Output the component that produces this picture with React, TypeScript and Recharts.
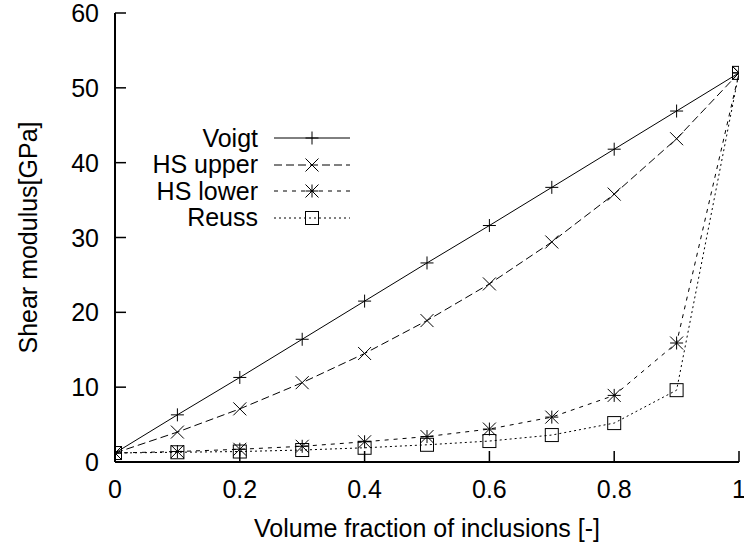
import { LineChart, Line, XAxis, YAxis, Legend, Label } from "recharts"

const fractions = [0, 0.1, 0.2, 0.3, 0.4, 0.5, 0.6, 0.7, 0.8, 0.9, 1]
const voigt = [1.2, 6.3, 11.3, 16.4, 21.5, 26.6, 31.6, 36.7, 41.8, 46.9, 52]
const hsUpper = [1.2, 4.0, 7.1, 10.6, 14.5, 18.9, 23.8, 29.4, 35.8, 43.2, 52]
const hsLower = [1.2, 1.4, 1.7, 2.1, 2.7, 3.4, 4.4, 6.0, 8.9, 15.9, 52]
const reuss = [1.2, 1.3, 1.4, 1.6, 1.9, 2.3, 2.8, 3.6, 5.2, 9.6, 52]
const xTicks = [0, 0.2, 0.4, 0.6, 0.8, 1]
const yTicks = [0, 10, 20, 30, 40, 50, 60]

const data = fractions.map((f, i) => ({
  f,
  voigt: voigt[i],
  hsUpper: hsUpper[i],
  hsLower: hsLower[i],
  reuss: reuss[i],
}))

const FONT = "'Liberation Sans', Arial, Helvetica, sans-serif"
const FS = 25
const TICK = 11

type Shape = "plus" | "cross" | "star" | "square"

const SERIES: { key: string; name: string; dash?: string; shape: Shape }[] = [
  { key: "voigt", name: "Voigt", shape: "plus" },
  { key: "hsUpper", name: "HS upper", dash: "8 4", shape: "cross" },
  { key: "hsLower", name: "HS lower", dash: "4 5", shape: "star" },
  { key: "reuss", name: "Reuss", dash: "2 3", shape: "square" },
]

function Marker({ shape, cx, cy }: { shape: Shape; cx: number; cy: number }) {
  const s = 6.5
  const plus = (
    <>
      <line x1={cx - s} y1={cy} x2={cx + s} y2={cy} />
      <line x1={cx} y1={cy - s} x2={cx} y2={cy + s} />
    </>
  )
  const cross = (
    <>
      <line x1={cx - s} y1={cy - s} x2={cx + s} y2={cy + s} />
      <line x1={cx - s} y1={cy + s} x2={cx + s} y2={cy - s} />
    </>
  )
  return (
    <g stroke="#000" strokeWidth={1} fill="none">
      {shape === "plus" && plus}
      {shape === "cross" && cross}
      {shape === "star" && (
        <>
          {plus}
          {cross}
        </>
      )}
      {shape === "square" && <rect x={cx - s} y={cy - s} width={2 * s} height={2 * s} />}
    </g>
  )
}

const fmt = (v: number) => String(v)

function BottomTick(p: any) {
  return (
    <g>
      <line x1={p.x} y1={p.y} x2={p.x} y2={p.y - TICK} stroke="#000" strokeWidth={1.5} />
      <text x={p.x} y={p.y + 36} textAnchor="middle" fontSize={FS} fontFamily={FONT} fill="#000">
        {fmt(p.payload.value)}
      </text>
    </g>
  )
}

function TopTick(p: any) {
  return <line x1={p.x} y1={p.y} x2={p.x} y2={p.y + TICK} stroke="#000" strokeWidth={1.5} />
}

function LeftTick(p: any) {
  return (
    <g>
      <line x1={p.x} y1={p.y} x2={p.x + TICK} y2={p.y} stroke="#000" strokeWidth={1.5} />
      <text x={p.x - 16} y={p.y + 9} textAnchor="end" fontSize={FS} fontFamily={FONT} fill="#000">
        {p.payload.value}
      </text>
    </g>
  )
}

function RightTick(p: any) {
  return <line x1={p.x} y1={p.y} x2={p.x - TICK} y2={p.y} stroke="#000" strokeWidth={1.5} />
}

function YTitle(p: any) {
  const vb = p.viewBox
  const cx = 37
  const cy = vb.y + vb.height / 2
  return (
    <text
      transform={`translate(${cx},${cy}) rotate(-90)`}
      textAnchor="middle"
      fontSize={FS}
      fontFamily={FONT}
      fill="#000"
    >
      Shear modulus[GPa]
    </text>
  )
}

function XTitle(p: any) {
  const vb = p.viewBox
  return (
    <text x={vb.x + vb.width / 2} y={vb.y + 75} textAnchor="middle" fontSize={FS} fontFamily={FONT} fill="#000">
      Volume fraction of inclusions [-]
    </text>
  )
}

function LegendBox() {
  return (
    <div style={{ fontFamily: FONT, fontSize: FS, color: "#000" }}>
      {SERIES.map((s) => (
        <div key={s.key} style={{ display: "flex", alignItems: "center", height: 26.5 }}>
          <span style={{ width: 140, textAlign: "right", lineHeight: 1 }}>{s.name}</span>
          <svg width={76} height={26} style={{ marginLeft: 16 }}>
            <line x1={0} y1={13} x2={76} y2={13} stroke="#000" strokeWidth={1} strokeDasharray={s.dash} />
            <Marker shape={s.shape} cx={38} cy={13} />
          </svg>
        </div>
      ))}
    </div>
  )
}

const axisLine = { stroke: "#000", strokeWidth: 2 }

export default function App() {
  return (
    <div style={{ position: "absolute", left: 0, top: 0, background: "#fff" }}>
      <LineChart width={744} height={547} data={data} margin={{ top: 13, right: 5, bottom: 0, left: 0 }}>
        <XAxis
          dataKey="f"
          type="number"
          domain={[0, 1]}
          ticks={xTicks}
          height={85}
          tickSize={0}
          tickMargin={0}
          tickLine={false}
          axisLine={axisLine}
          tick={BottomTick}
          allowDataOverflow
        >
          <Label content={XTitle} />
        </XAxis>
        <XAxis
          xAxisId="top"
          orientation="top"
          dataKey="f"
          type="number"
          domain={[0, 1]}
          ticks={xTicks}
          height={0}
          tickSize={0}
          tickMargin={0}
          tickLine={false}
          axisLine={axisLine}
          tick={TopTick}
          allowDataOverflow
        />
        <YAxis
          type="number"
          domain={[0, 60]}
          ticks={yTicks}
          width={115}
          tickSize={0}
          tickMargin={0}
          tickLine={false}
          axisLine={axisLine}
          tick={LeftTick}
          allowDataOverflow
        >
          <Label content={YTitle} />
        </YAxis>
        <YAxis
          yAxisId="right"
          orientation="right"
          type="number"
          domain={[0, 60]}
          ticks={yTicks}
          width={0}
          tickSize={0}
          tickMargin={0}
          tickLine={false}
          axisLine={axisLine}
          tick={RightTick}
          allowDataOverflow
        />
        <Legend
          layout="horizontal"
          verticalAlign="middle"
          align="center"
          wrapperStyle={{ position: "absolute", left: 118, top: 125, width: "auto", height: "auto" }}
          content={LegendBox}
        />
        {SERIES.map((s) => (
          <Line
            key={s.key}
            dataKey={s.key}
            name={s.name}
            type="linear"
            stroke="#000"
            strokeWidth={1}
            strokeDasharray={s.dash}
            isAnimationActive={false}
            dot={(p: any) => <Marker key={`${s.key}-${p.index}`} shape={s.shape} cx={p.cx} cy={p.cy} />}
            activeDot={false}
          />
        ))}
      </LineChart>
    </div>
  )
}
